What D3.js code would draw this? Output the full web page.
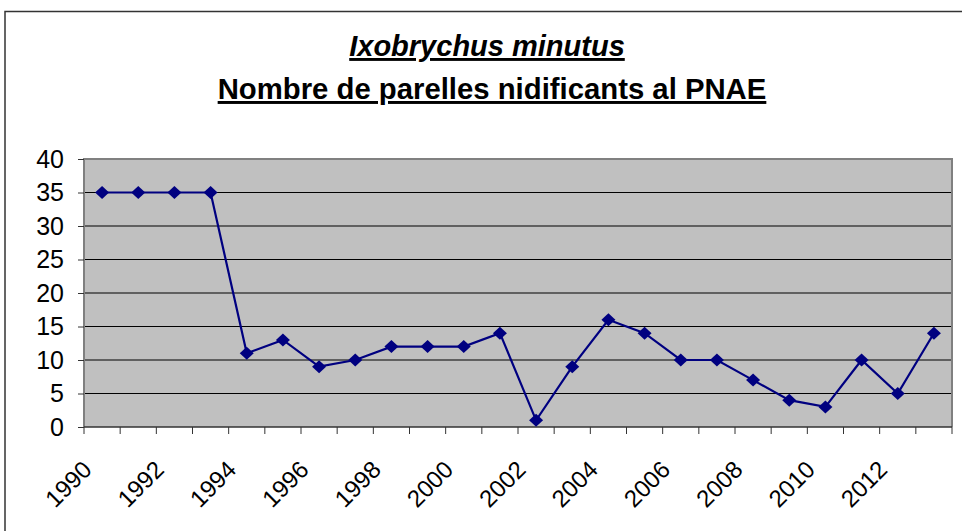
<!DOCTYPE html>
<html>
<head>
<meta charset="utf-8">
<script src="https://cdn.jsdelivr.net/npm/d3@7"></script>
<style>
  body { margin: 0; background: #fff; }
  svg { display: block; font-family: "Liberation Sans", Arial, sans-serif; }
</style>
</head>
<body>
<svg></svg>
<script>
let width = 962, height = 531;

// data
var years = [1990, 1991, 1992, 1993, 1994, 1995, 1996, 1997, 1998, 1999, 2000, 2001,
             2002, 2003, 2004, 2005, 2006, 2007, 2008, 2009, 2010, 2011, 2012, 2013]
var pairs = [35, 35, 35, 35, 11, 13, 9, 10, 12, 12, 12, 14,
             1, 9, 16, 14, 10, 10, 7, 4, 3, 10, 5, 14]
var yTicks = [0, 5, 10, 15, 20, 25, 30, 35, 40]
var xLabels = [1990, 1992, 1994, 1996, 1998, 2000, 2002, 2004, 2006, 2008, 2010, 2012]
var title1 = "Ixobrychus minutus"
var title2 = "Nombre de parelles nidificants al PNAE"

let svg = d3.select("svg")
    .attr("width", width)
    .attr("height", height)

let plot = {left: 84, right: 952, top: 159, bottom: 427}

var x = d3.scaleBand()
    .domain(years)
    .range([plot.left, plot.right])

var y = d3.scaleLinear()
    .domain([0, 40])
    .range([plot.bottom, plot.top])

// outer chart frame (runs off the right and bottom of the picture)
svg.append("rect")
    .attr("x", 5).attr("y", 11.5)
    .attr("width", 1000).attr("height", 600)
    .attr("fill", "none")
    .attr("stroke", "#333")
    .attr("stroke-width", 1.5)

// titles
svg.append("text")
    .attr("x", 487).attr("y", 56)
    .attr("text-anchor", "middle")
    .style("font-size", "29px")
    .style("font-weight", "bold")
    .style("font-style", "italic")
    .style("text-decoration", "underline")
    .text(title1)

svg.append("text")
    .attr("x", 492).attr("y", 99)
    .attr("text-anchor", "middle")
    .style("font-size", "29.3px")
    .style("font-weight", "bold")
    .style("text-decoration", "underline")
    .text(title2)

// plot area
svg.append("rect")
    .attr("x", plot.left).attr("y", plot.top)
    .attr("width", plot.right - plot.left)
    .attr("height", plot.bottom - plot.top)
    .attr("fill", "#c0c0c0")

svg.append("g")
    .selectAll("line")
    .data(yTicks.filter(d => d > 0 && d < 40))
    .enter()
    .append("line")
    .attr("x1", plot.left).attr("x2", plot.right)
    .attr("y1", d => y(d)).attr("y2", d => y(d))
    .attr("stroke", "#000")
    .attr("stroke-width", 1)

// gray border top / right / left
svg.append("path")
    .attr("d", "M" + plot.left + "," + plot.bottom + "V" + plot.top + "H" + plot.right + "V" + plot.bottom)
    .attr("fill", "none")
    .attr("stroke", "#808080")
    .attr("stroke-width", 2)

// y axis
let yAxis = svg.append("g")
    .attr("transform", "translate(" + plot.left + ",0)")
    .call(d3.axisLeft(y).tickValues(yTicks).tickSize(6).tickPadding(14))
yAxis.select(".domain").remove()
yAxis.selectAll(".tick line").attr("stroke", "#333")
yAxis.selectAll("text")
    .attr("fill", "#000")
    .attr("font-size", null)
    .attr("font-family", null)
    .style("font-size", "25px")

// x axis: ticks on band boundaries
var xTickPos = years.map(d => x(d)).concat([x.range()[1]])
svg.append("line")
    .attr("x1", plot.left).attr("x2", plot.right)
    .attr("y1", plot.bottom).attr("y2", plot.bottom)
    .attr("stroke", "#333").attr("stroke-width", 1.5)
svg.append("g")
    .selectAll("line")
    .data(xTickPos)
    .enter()
    .append("line")
    .attr("x1", d => d).attr("x2", d => d)
    .attr("y1", plot.bottom).attr("y2", plot.bottom + 7)
    .attr("stroke", "#333")

svg.append("g")
    .selectAll("text")
    .data(xLabels)
    .enter()
    .append("text")
    .attr("transform", d => "translate(" + (x(d) + x.bandwidth() / 2 - 9) + "," + (plot.bottom + 44) + ") rotate(-45)")
    .attr("text-anchor", "end")
    .style("font-size", "24px")
    .text(d => d)

// series
var line = d3.line()
    .x((d, i) => x(years[i]) + x.bandwidth() / 2)
    .y(d => y(d))

svg.append("path")
    .datum(pairs)
    .attr("d", line)
    .attr("fill", "none")
    .attr("stroke", "#000080")
    .attr("stroke-width", 2.2)

svg.append("g")
    .selectAll("path")
    .data(pairs)
    .enter()
    .append("path")
    .attr("transform", (d, i) => "translate(" + (x(years[i]) + x.bandwidth() / 2) + "," + y(d) + ")")
    .attr("d", "M0,-6.5L7,0L0,6.5L-7,0Z")
    .attr("fill", "#000080")
</script>
</body>
</html>
